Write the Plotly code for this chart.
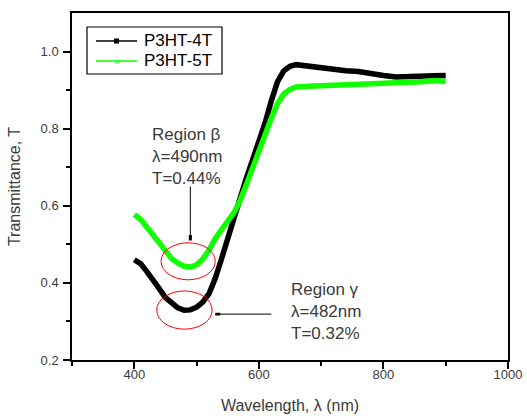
import plotly.graph_objects as go

# P3HT-4T (black)
wl_4t = [400, 410, 420, 430, 440, 450, 460, 470, 480, 490, 500, 510, 520, 530, 540,
         550, 560, 570, 580, 590, 600, 610, 620, 630, 640, 650, 660, 670, 680, 700,
         720, 740, 760, 780, 800, 820, 840, 860, 880, 900]
t_4t = [0.460, 0.450, 0.430, 0.410, 0.385, 0.362, 0.346, 0.335, 0.329, 0.330, 0.337,
        0.350, 0.372, 0.412, 0.462, 0.518, 0.570, 0.620, 0.672, 0.720, 0.764, 0.815,
        0.872, 0.922, 0.950, 0.962, 0.966, 0.964, 0.960, 0.957, 0.953, 0.950, 0.948,
        0.942, 0.938, 0.934, 0.934, 0.937, 0.937, 0.938]

# P3HT-5T (green)
wl_5t = [400, 410, 420, 430, 440, 450, 460, 470, 480, 490, 500, 510, 520, 530, 540,
         550, 560, 570, 580, 590, 600, 610, 620, 630, 640, 650, 660, 680, 700, 720,
         740, 760, 780, 800, 820, 840, 860, 880, 900]
t_5t = [0.577, 0.565, 0.545, 0.525, 0.502, 0.481, 0.463, 0.451, 0.443, 0.441, 0.447,
        0.462, 0.485, 0.515, 0.540, 0.560, 0.582, 0.614, 0.655, 0.700, 0.740, 0.785,
        0.827, 0.865, 0.890, 0.902, 0.908, 0.910, 0.911, 0.912, 0.913, 0.914, 0.916,
        0.918, 0.919, 0.921, 0.922, 0.924, 0.923]

series_names = ["P3HT-4T", "P3HT-5T"]
x_ticks = [400, 600, 800, 1000]
y_ticks = [0.2, 0.4, 0.6, 0.8, 1.0]

TXT = "#3a3a3a"
FONT = "Liberation Sans, Arial, sans-serif"
GREEN = "#11ff00"

# plot-area pixel geometry helpers for paper coordinates (legend / labels only)
L, R, T, B = 72, 508, 13, 360
def px(x):
    return (x - L) / (R - L)
def py(y):
    return (B - y) / (B - T)

fig = go.Figure()
fig.add_trace(go.Scatter(x=wl_4t, y=t_4t, mode="lines", line=dict(color="black", width=5.5),
                         name=series_names[0], showlegend=False))
fig.add_trace(go.Scatter(x=wl_5t, y=t_5t, mode="lines", line=dict(color=GREEN, width=5.5),
                         name=series_names[1], showlegend=False))

# red ellipses
fig.add_shape(type="circle", xref="x", yref="y", x0=443, x1=530, y0=0.408, y1=0.504,
              line=dict(color="red", width=1))
fig.add_shape(type="circle", xref="x", yref="y", x0=436, x1=525, y0=0.280, y1=0.379,
              line=dict(color="red", width=1))

# pointer lines with square ends
fig.add_shape(type="line", xref="x", yref="y", x0=490, x1=490, y0=0.65, y1=0.518,
              line=dict(color="black", width=1))
fig.add_shape(type="rect", xref="x", yref="y", x0=487.5, x1=492.5, y0=0.510, y1=0.524,
              line=dict(width=0), fillcolor="black")
fig.add_shape(type="line", xref="x", yref="y", x0=533, x1=620, y0=0.319, y1=0.319,
              line=dict(color="black", width=1))
fig.add_shape(type="rect", xref="x", yref="y", x0=530, x1=538, y0=0.3155, y1=0.3225,
              line=dict(width=0), fillcolor="black")

fig.add_annotation(x=px(150), y=py(157), xref="paper", yref="paper", showarrow=False,
                   xanchor="left", yanchor="middle", align="left",
                   text="Region β<br>λ=490nm<br>T=0.44%",
                   font=dict(family=FONT, size=17, color=TXT))
fig.add_annotation(x=px(289), y=py(311), xref="paper", yref="paper", showarrow=False,
                   xanchor="left", yanchor="middle", align="left",
                   text="Region γ<br>λ=482nm<br>T=0.32%",
                   font=dict(family=FONT, size=17, color=TXT))

# legend drawn manually
fig.add_shape(type="rect", xref="paper", yref="paper", x0=px(87), x1=px(222), y0=py(74), y1=py(27),
              line=dict(color="black", width=1.2), fillcolor="white")
for i, (name, col) in enumerate(zip(series_names, ["black", GREEN])):
    yy = 41 + 20 * i
    fig.add_shape(type="line", xref="paper", yref="paper", x0=px(96), x1=px(137), y0=py(yy), y1=py(yy),
                  line=dict(color=col, width=1.5))
    if i == 0:
        fig.add_shape(type="rect", xref="paper", yref="paper", x0=px(114), x1=px(119),
                      y0=py(yy + 2.5), y1=py(yy - 2.5), line=dict(width=0), fillcolor="black")
    else:
        fig.add_annotation(x=px(117), y=py(yy), xref="paper", yref="paper", showarrow=False,
                           text="»", font=dict(family=FONT, size=11, color=col),
                           xanchor="center", yanchor="middle")
    fig.add_annotation(x=px(142), y=py(yy), xref="paper", yref="paper", showarrow=False,
                       xanchor="left", yanchor="middle", text=name,
                       font=dict(family=FONT, size=17, color="black"))

axis_common = dict(showline=True, linecolor="black", linewidth=1.5, mirror=True,
                   ticks="outside", ticklen=7, tickwidth=1.5, tickcolor="black",
                   showgrid=False, zeroline=False, automargin=False,
                   tickfont=dict(family=FONT, size=13, color=TXT),
                   minor=dict(ticks="outside", ticklen=4, tickwidth=1.5, tickcolor="black"))

fig.update_xaxes(range=[300, 1000], tickvals=x_ticks, ticktext=[str(v) for v in x_ticks],
                 minor_tickvals=[300, 500, 700, 900], ticklabelstandoff=-5,
                 title=dict(text="Wavelength, λ (nm)", font=dict(family=FONT, size=16, color=TXT),
                            standoff=18),
                 **axis_common)
fig.update_yaxes(range=[0.2, 1.1], tickvals=y_ticks, ticktext=[f"{v:.1f}" for v in y_ticks],
                 minor_tickvals=[0.3, 0.5, 0.7, 0.9], ticklabelstandoff=2,
                 title=dict(text="Transmittance, T", font=dict(family=FONT, size=16, color=TXT),
                            standoff=16),
                 **axis_common)

fig.update_layout(width=527, height=416, margin=dict(l=L, r=527 - R, t=T, b=416 - B),
                  plot_bgcolor="white", paper_bgcolor="white", showlegend=False)

fig.write_html("out.html")
